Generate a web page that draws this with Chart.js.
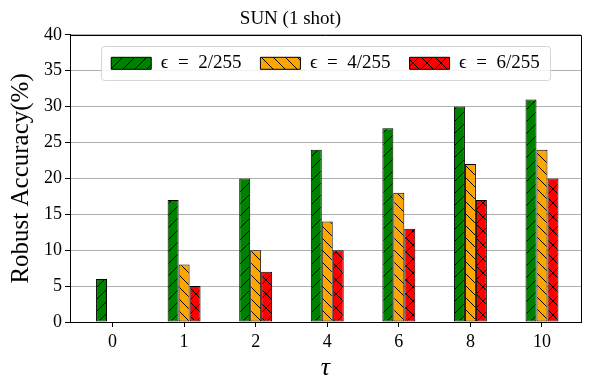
<!DOCTYPE html>
<html>
<head>
<meta charset="utf-8">
<script src="https://cdn.jsdelivr.net/npm/chart.js@4"></script>
<style>
  body { margin: 0; background: #fff; }
  #wrap { width: 590px; height: 390px; }
</style>
</head>
<body>
<div id="wrap"><canvas id="chart"></canvas></div>
<script>
const taus = ['0', '1', '2', '4', '6', '8', '10'];
const eps2 = [6, 17, 20, 24, 27, 30, 31];
const eps4 = [0, 8, 10, 14, 18, 22, 24];
const eps6 = [0, 5, 7, 10, 13, 17, 20];
const seriesLabels = ['ϵ\u2002=\u20022/255', 'ϵ\u2002=\u20024/255', 'ϵ\u2002=\u20026/255'];

const canvas = document.getElementById('chart');
const ctx = canvas.getContext('2d');

function hatch(color, fwd, back, size) {
    const tile = document.createElement('canvas');
    tile.width = tile.height = size;
    const g = tile.getContext('2d');
    g.fillStyle = color;
    g.fillRect(0, 0, size, size);
    g.strokeStyle = '#000';
    g.lineWidth = 1;
    g.beginPath();
    if (fwd) {
        g.moveTo(-1, size + 1); g.lineTo(size + 1, -1);
    }
    if (back) {
        g.moveTo(-1, -1); g.lineTo(size + 1, size + 1);
    }
    g.stroke();
    return ctx.createPattern(tile, 'repeat');
}

const toXY = (arr) => arr.map((v, i) => ({ x: i, y: v }));

// legend sits inside the plot like matplotlib's: it takes no layout height
// and gets a white rounded frame behind it
const frame = {
    id: 'frame',
    beforeLayout(chart) {
        const lg = chart.legend;
        if (!lg || lg._framed) return;
        const fit = lg.fit;
        lg.fit = function () {
            fit.call(this);
            this.height = 0;
        };
        lg.draw = function () {
            const hb = this.legendHitBoxes;
            if (hb && hb.length) {
                const last = hb[hb.length - 1];
                const l = hb[0].left - 10;
                const r = last.left + last.width + 10;
                const t = hb[0].top - 8;
                const b = hb[0].top + hb[0].height + 7;
                const c = this.ctx;
                c.save();
                c.fillStyle = 'rgba(255,255,255,0.85)';
                c.strokeStyle = '#d5d5d5';
                c.lineWidth = 1;
                c.beginPath();
                c.roundRect(Math.round(l) + 0.5, Math.round(t) + 0.5, Math.round(r - l), Math.round(b - t), 3);
                c.fill();
                c.stroke();
                c.restore();
            }
            this._draw();
        };
        lg._framed = true;
    },
    afterDraw(chart) {
        const a = chart.chartArea;
        const c = chart.ctx;
        c.save();
        c.strokeStyle = '#000';
        c.lineWidth = 1;
        c.beginPath();
        c.moveTo(a.left, Math.round(a.top) + 0.5);
        c.lineTo(Math.round(a.right) + 0.5, Math.round(a.top) + 0.5);
        c.lineTo(Math.round(a.right) + 0.5, a.bottom);
        c.stroke();
        c.restore();
    }
};

Chart.defaults.font.family = "'Liberation Serif', 'DejaVu Serif', serif";
Chart.defaults.color = '#000';

new Chart(canvas, {
    type: 'bar',
    data: {
        datasets: [{
            label: seriesLabels[0],
            data: toXY(eps2),
            backgroundColor: hatch('#008000', true, false, 12),
            borderColor: '#000',
            borderWidth: 1
        }, {
            label: seriesLabels[1],
            data: toXY(eps4),
            backgroundColor: hatch('#ffa500', false, true, 12),
            borderColor: '#000',
            borderWidth: 1
        }, {
            label: seriesLabels[2],
            data: toXY(eps6),
            backgroundColor: hatch('#ff0000', true, true, 14),
            borderColor: '#000',
            borderWidth: 1
        }]
    },
    options: {
        responsive: true,
        maintainAspectRatio: false,
        animation: false,
        layout: { padding: { left: 0, right: 9, top: 0, bottom: 0 } },
        datasets: { bar: { categoryPercentage: 0.46, barPercentage: 1, borderSkipped: false } },
        plugins: {
            title: {
                display: true,
                text: 'SUN (1 shot)',
                font: { size: 19, weight: 'normal' },
                padding: { top: 8, bottom: 4 }
            },
            legend: {
                position: 'top',
                fullSize: false,
                align: 'center',
                labels: {
                    boxWidth: 40,
                    boxHeight: 12,
                    padding: 19,
                    font: { size: 19 }
                }
            },
            tooltip: { enabled: false }
        },
        scales: {
            x: {
                type: 'linear',
                min: -0.594,
                max: 6.545,
                offset: false,
                afterFit: (s) => { s.height = 68; },
                grid: { drawOnChartArea: false, drawTicks: true, tickLength: 5, tickColor: '#000', offset: false },
                border: { color: '#000', width: 1 },
                ticks: {
                    stepSize: 1,
                    includeBounds: false,
                    padding: 4,
                    font: { size: 18 },
                    callback: (v) => taus[v]
                },
                title: { display: true, text: 'τ', font: { size: 26, style: 'italic' }, padding: { top: 0, bottom: 6 } }
            },
            y: {
                min: 0,
                max: 40,
                afterFit: (s) => { s.width = 70; },
                grid: { color: '#b0b0b0', lineWidth: 1, tickLength: 5, tickColor: '#000' },
                border: { color: '#000', width: 1 },
                ticks: { stepSize: 5, padding: 3, font: { size: 18 } },
                title: { display: true, text: 'Robust Accuracy(%)', font: { size: 25 }, padding: { top: 6, bottom: 0 } }
            }
        }
    },
    plugins: [frame]
});
</script>
</body>
</html>
